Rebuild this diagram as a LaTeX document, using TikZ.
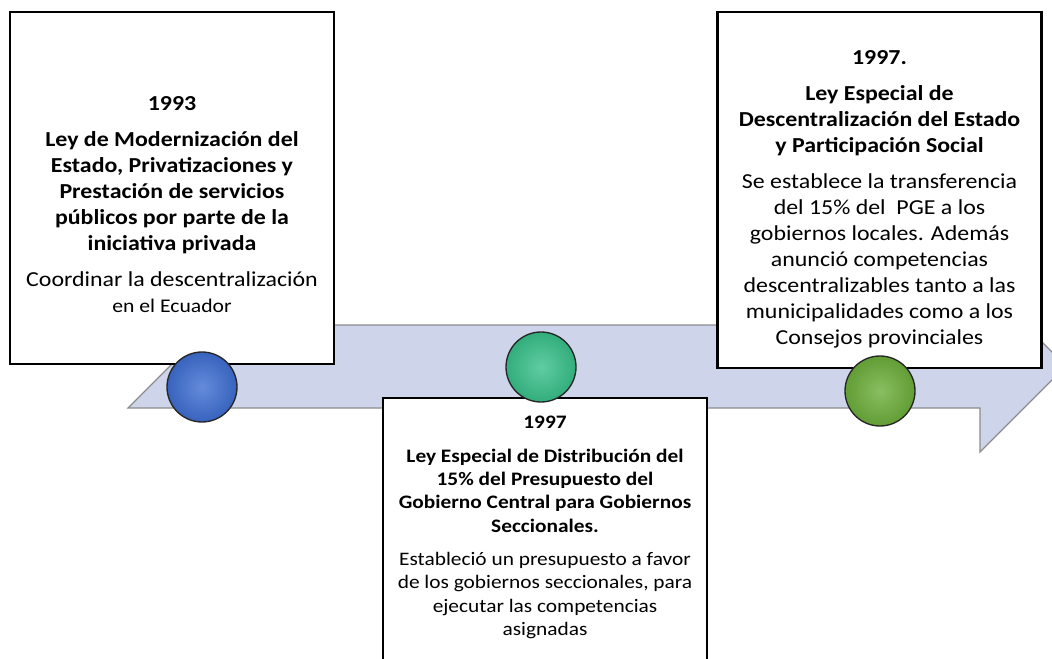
\documentclass[tikz,border=0pt]{standalone}
\usepackage{fontspec}
\setmainfont{Carlito}[FakeStretch=1.12]
\usetikzlibrary{positioning}

\definecolor{bandFill}{RGB}{206,212,234}
\definecolor{bandLine}{RGB}{140,140,140}
\definecolor{ballBlue}{RGB}{62,110,210}
\definecolor{ballTeal}{RGB}{56,192,138}
\definecolor{ballGreen}{RGB}{108,174,58}

\begin{document}
\begin{tikzpicture}[x=0.75pt, y=-0.75pt,
    card/.style={draw, line width=1.6pt, fill=white, rectangle, inner sep=0pt, minimum width=243pt},
    cardtext/.style={anchor=north, align=center, inner sep=0pt},
    ball/.style={circle, draw=black!85, line width=1pt, minimum size=52.5pt, inner sep=0pt, inner color=#1!80!white, outer color=#1!90!black}]
    \clip (0,0) rectangle (1052,659);

    % Reference coordinates
    \coordinate (bandSW) at (128,408);
    \coordinate (bandNW) at (211,325);
    \coordinate (bandNE) at (980,325);
    \coordinate (headN) at (980,280);
    \coordinate (headTip) at (1066,366);
    \coordinate (headS) at (980,452);
    \coordinate (bandSE) at (980,408);

    % Time band
    \draw[bandLine, fill=bandFill, line width=1pt] (bandSW) -- (bandNW) -- (bandNE) -- (headN) -- (headTip) -- (headS) -- (bandSE) -- cycle;

    % Cards
    \node[card, minimum height=264pt] (ley93) at (172,188) {};
    \node[card, minimum height=267pt] (leyDesc) at (879.5,190) {};
    \node[card, minimum height=211.5pt] (leyDist) at (545,539) {};

    % Card texts
    \node[cardtext, font=\fontsize{16}{19.5}\selectfont] (ley93text) at (172,96)
        {\textbf{1993}\\[7.5pt]
         \textbf{Ley de Modernización del}\\
         \textbf{Estado, Privatizaciones y}\\
         \textbf{Prestación de servicios}\\
         \textbf{públicos por parte de la}\\
         \textbf{iniciativa privada}\\[7.5pt]
         Coordinar la descentralización\\
         {\fontsize{14.5}{17}\selectfont en el Ecuador}};
    \node[cardtext, font=\fontsize{16}{19.5}\selectfont] (leyDesctext) at (879.5,50)
        {\textbf{1997.}\\[7.5pt]
         \textbf{Ley Especial de}\\
         \textbf{Descentralización del Estado}\\
         \textbf{y Participación Social}\\[7.5pt]
         Se establece la transferencia\\
         del 15\% del\ \ PGE a los\\
         gobiernos locales. Además\\
         anunció competencias\\
         descentralizables tanto a las\\
         municipalidades como a los\\
         Consejos provinciales};
    \node[cardtext, font=\fontsize{14.3}{17.5}\selectfont] (leyDisttext) at (545,416)
        {\textbf{1997}\\[7.5pt]
         \textbf{Ley Especial de Distribución del}\\
         \textbf{15\% del Presupuesto del}\\
         \textbf{Gobierno Central para Gobiernos}\\
         \textbf{Seccionales.}\\[7.5pt]
         Estableció un presupuesto a favor\\
         de los gobiernos seccionales, para\\
         ejecutar las competencias\\
         asignadas};

    % Milestones
    \node[ball=ballBlue] (ball93) at (202,387) {};
    \node[ball=ballTeal] (ballDist) at (541,367) {};
    \node[ball=ballGreen] (ballDesc) at (880,391) {};

\end{tikzpicture}
\end{document}
